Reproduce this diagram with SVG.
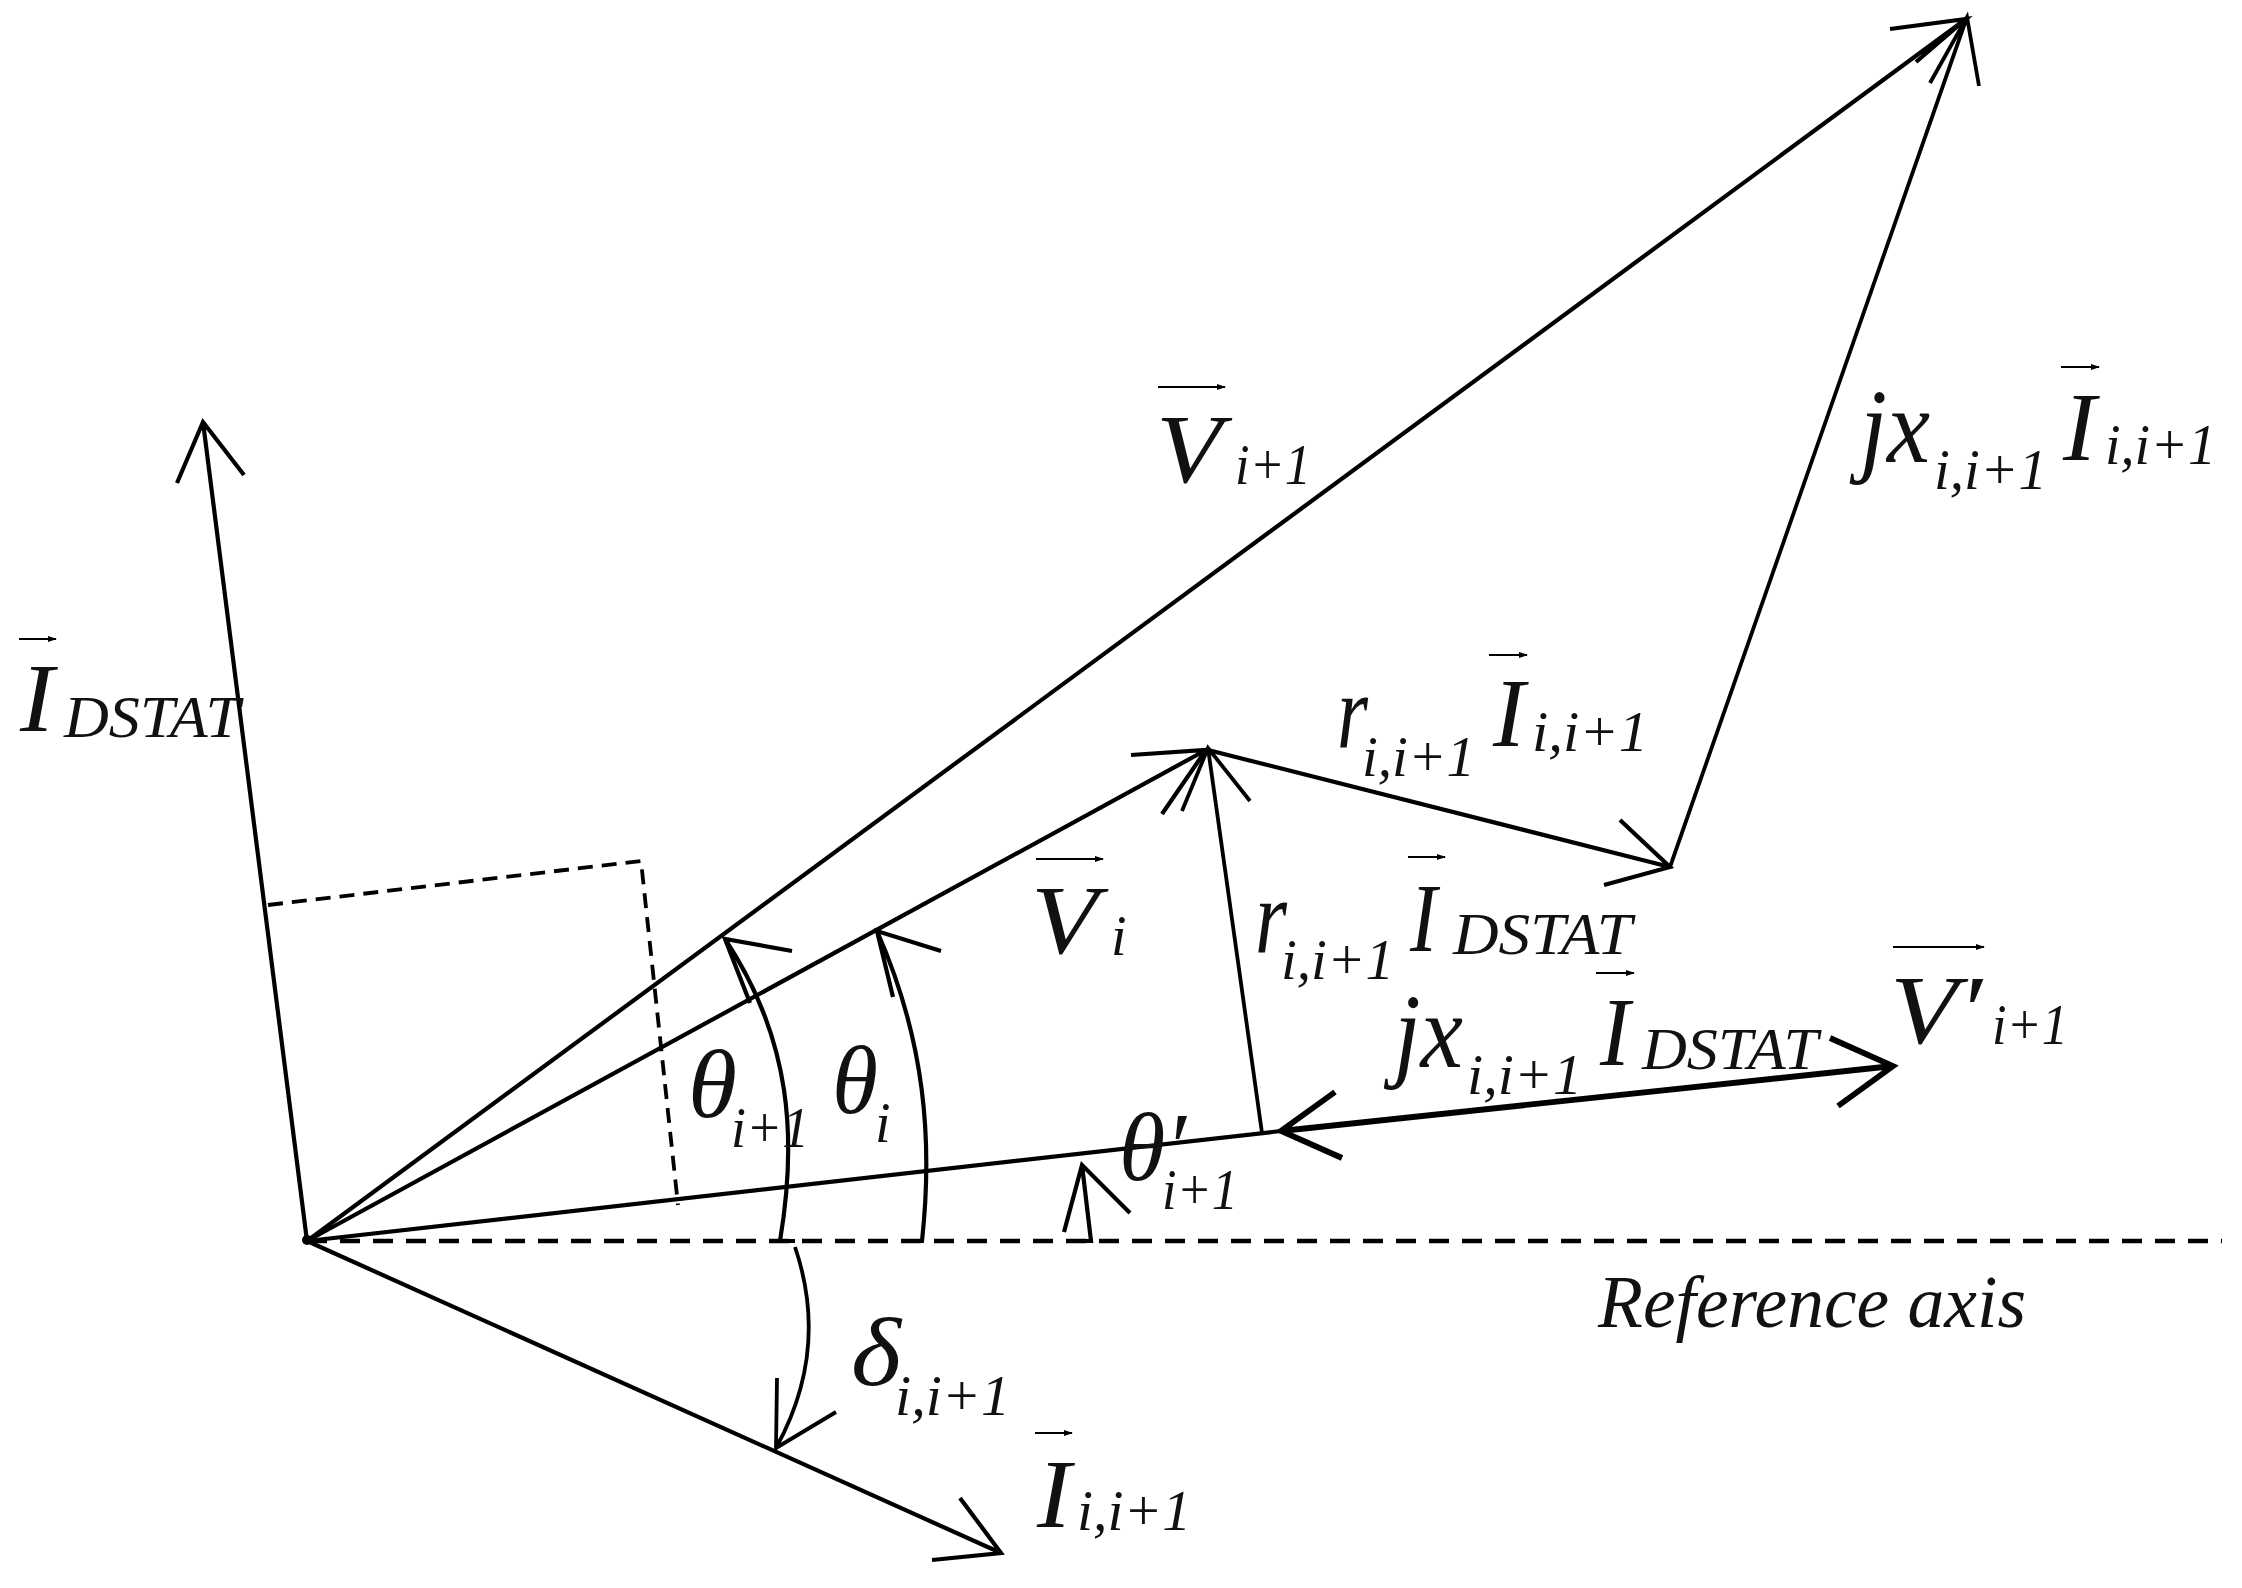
<svg xmlns="http://www.w3.org/2000/svg" width="2242" height="1588" viewBox="0 0 2242 1588">
<defs><marker id="vh" markerWidth="10" markerHeight="8" refX="8" refY="4" orient="auto" markerUnits="userSpaceOnUse"><path d="M0 1 L9 4 L0 7 Z" fill="#000"/></marker></defs>
<style>
.l{fill:none;stroke:#000;stroke-width:4.2;stroke-linecap:butt;stroke-linejoin:miter}
.t{stroke-width:5.8}
.n{stroke-width:3.8}
.d{stroke-dasharray:15 9;stroke-width:3.8}
.a{stroke-dasharray:20 13;stroke-width:4.6}
.v{fill:none;stroke:#000;stroke-width:2.2;marker-end:url(#vh)}
text{font-family:"Liberation Serif","Times New Roman",serif;font-style:italic;fill:#111}
.b{font-size:97px}
.x{font-size:106px}
.s{font-size:56px}
.m{font-size:60px}
</style>
<rect width="2242" height="1588" fill="#fff"/>
<g id="connectors">
<path class="l a" d="M307 1241H2222"/>
<path class="l" d="M307 1241L203 422M177 483L203 422L244 475"/>
<path class="l" d="M307 1241L1966 19M1890 29L1966 19L1916 62"/>
<path class="l" d="M307 1241L1206 750M1131 755L1206 750L1162 814"/>
<path class="l" d="M307 1241L1281 1131"/>
<path class="l t" d="M1281 1131L1893 1066M1830 1038L1893 1066L1838 1106M1335 1092L1281 1131L1342 1158"/>
<path class="l" d="M307 1241L1001 1553M960 1498L1001 1553L932 1560"/>
<path class="l n" d="M1262 1133L1208 748M1182 811L1208 748L1250 801"/>
<path class="l" d="M1208 750L1670 867M1620 820L1670 867L1604 885"/>
<path class="l n" d="M1670 867L1967 17M1930 83L1967 17L1979 86"/>
<path class="l d" d="M268 905L641 861L678 1205"/>
<path class="l" d="M795 1241H780C797 1140 792 1040 725 939M792 951L725 939L750 1003"/>
<path class="l" d="M910 1241H922C933 1140 925 1040 877 931M941 951L877 931L893 997"/>
<path class="l" d="M1075 1241H1091L1082 1165M1064 1232L1082 1165L1130 1213"/>
<path class="l n" d="M795 1247Q830 1350 776 1448M777 1378L776 1448L836 1412"/>
<circle cx="307" cy="1240" r="5" fill="#000"/>
</g>
<g id="label-idstat"><path class="v" d="M19 639H56"/><text class="b" x="20" y="731" textLength="34" lengthAdjust="spacingAndGlyphs">I</text><text class="m" x="64" y="737" textLength="176" lengthAdjust="spacingAndGlyphs">DSTAT</text></g>
<g id="label-v-next"><path class="v" d="M1158 387H1225"/><text class="b" x="1156" y="482" textLength="66" lengthAdjust="spacingAndGlyphs">V</text><text class="s" x="1235" y="484" textLength="76" lengthAdjust="spacingAndGlyphs">i+1</text></g>
<g id="label-jx-i"><path class="v" d="M2061 367H2099"/><text class="x" x="1860" y="462" textLength="70" lengthAdjust="spacingAndGlyphs">jx</text><text class="s" x="1934" y="489" textLength="113" lengthAdjust="spacingAndGlyphs">i,i+1</text><text class="b" x="2063" y="460" textLength="33" lengthAdjust="spacingAndGlyphs">I</text><text class="s" x="2105" y="464" textLength="111" lengthAdjust="spacingAndGlyphs">i,i+1</text></g>
<g id="label-r-i"><path class="v" d="M1489 655H1527"/><text class="x" x="1337" y="747" textLength="31" lengthAdjust="spacingAndGlyphs">r</text><text class="s" x="1362" y="776" textLength="113" lengthAdjust="spacingAndGlyphs">i,i+1</text><text class="b" x="1493" y="746" textLength="32" lengthAdjust="spacingAndGlyphs">I</text><text class="s" x="1532" y="751" textLength="116" lengthAdjust="spacingAndGlyphs">i,i+1</text></g>
<g id="label-r-dstat"><path class="v" d="M1408 857H1445"/><text class="x" x="1255" y="952" textLength="32" lengthAdjust="spacingAndGlyphs">r</text><text class="s" x="1281" y="979" textLength="113" lengthAdjust="spacingAndGlyphs">i,i+1</text><text class="b" x="1410" y="951" textLength="27" lengthAdjust="spacingAndGlyphs">I</text><text class="m" x="1453" y="954" textLength="179" lengthAdjust="spacingAndGlyphs">DSTAT</text></g>
<g id="label-v-i"><path class="v" d="M1036 859H1103"/><text class="b" x="1031" y="953" textLength="67" lengthAdjust="spacingAndGlyphs">V</text><text class="s" x="1111" y="955">i</text></g>
<g id="label-v-prime"><path class="v" d="M1893 947H1984"/><text class="b" x="1890" y="1043" textLength="92" lengthAdjust="spacingAndGlyphs">V′</text><text class="s" x="1992" y="1044" textLength="76" lengthAdjust="spacingAndGlyphs">i+1</text></g>
<g id="label-jx-dstat"><path class="v" d="M1596 973H1634"/><text class="x" x="1394" y="1067" textLength="69" lengthAdjust="spacingAndGlyphs">jx</text><text class="s" x="1467" y="1094" textLength="115" lengthAdjust="spacingAndGlyphs">i,i+1</text><text class="b" x="1600" y="1065" textLength="30" lengthAdjust="spacingAndGlyphs">I</text><text class="m" x="1642" y="1069" textLength="176" lengthAdjust="spacingAndGlyphs">DSTAT</text></g>
<g id="label-theta-prime"><text class="b" x="1119" y="1180" textLength="67" lengthAdjust="spacingAndGlyphs">θ′</text><text class="s" x="1162" y="1209" textLength="76" lengthAdjust="spacingAndGlyphs">i+1</text></g>
<g id="label-theta-next"><text class="b" x="688" y="1117" textLength="49" lengthAdjust="spacingAndGlyphs">θ</text><text class="s" x="731" y="1147" textLength="78" lengthAdjust="spacingAndGlyphs">i+1</text></g>
<g id="label-theta-i"><text class="b" x="832" y="1113" textLength="46" lengthAdjust="spacingAndGlyphs">θ</text><text class="s" x="875" y="1142">i</text></g>
<g id="label-delta"><text class="b" x="851" y="1385" textLength="50" lengthAdjust="spacingAndGlyphs">δ</text><text class="s" x="895" y="1415" textLength="115" lengthAdjust="spacingAndGlyphs">i,i+1</text></g>
<g id="label-i"><path class="v" d="M1035 1433H1072"/><text class="b" x="1037" y="1527" textLength="34" lengthAdjust="spacingAndGlyphs">I</text><text class="s" x="1077" y="1530" textLength="114" lengthAdjust="spacingAndGlyphs">i,i+1</text></g>
<g id="label-axis"><text x="1598" y="1327" font-size="74" textLength="428" lengthAdjust="spacingAndGlyphs">Reference axis</text></g>
</svg>
